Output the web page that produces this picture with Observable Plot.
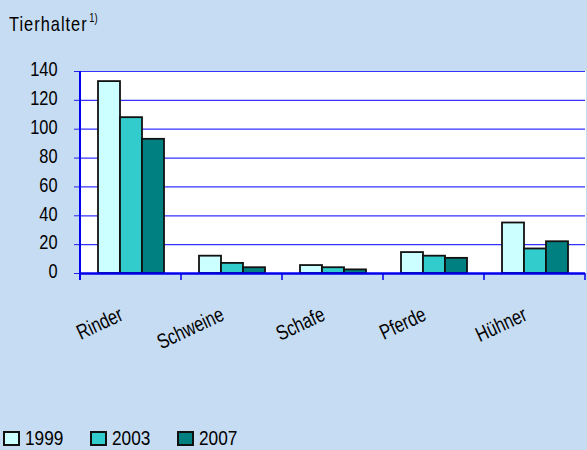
<!DOCTYPE html>
<html><head><meta charset="utf-8">
<script src="https://cdn.jsdelivr.net/npm/d3@7"></script>
<script src="https://cdn.jsdelivr.net/npm/@observablehq/plot@0.6"></script>
<style>
html,body{margin:0;padding:0;background:#c6dcf2;overflow:hidden;}
#wrap{position:relative;width:587px;height:450px;overflow:hidden;font-family:"Liberation Sans",Arial,sans-serif;color:#000;}
.sq{display:inline-block;transform:scaleX(0.78);transform-origin:0 50%;white-space:nowrap;}
#legend .sq{transform:scaleX(0.82);}
#title{position:absolute;left:9px;top:13px;font-size:21px;line-height:21px;white-space:nowrap;}
#title .main{letter-spacing:1.3px;}
#title sup{font-size:12px;vertical-align:0;position:relative;top:-9px;margin-left:2px;letter-spacing:0;}
#chart{position:absolute;left:0;top:0;}
#legend{position:absolute;left:3px;top:427px;display:flex;font-size:21px;line-height:21px;}
.item{display:flex;align-items:flex-start;width:87px;}
.sw{width:13px;height:11px;border:2px solid #111;margin-top:4px;margin-right:5px;flex:none;}
#chart svg [aria-label^="y-axis"] line, #chart svg [aria-label^="y-axis"] path{stroke:#2222ee;}
</style></head>
<body>
<div id="wrap"><div id="title"><span class="sq"><span class="main">Tierhalter</span><sup>1)</sup></span></div><div id="chart"></div><div id="legend"></div></div>
<script>
const categories = ["Rinder", "Schweine", "Schafe", "Pferde", "Hühner"];
const years = ["1999", "2003", "2007"];
const values1999 = [133, 12, 5.5, 14.5, 35];
const values2003 = [108, 7, 4, 12, 17];
const values2007 = [93, 4, 2.5, 10.5, 22];
const yTicks = [0, 20, 40, 60, 80, 100, 120, 140];
const colors = ["#ccffff", "#33cccc", "#008080"];

const series = [values1999, values2003, values2007];
const rows = [];
categories.forEach((c, i) => years.forEach((yr, j) => rows.push({cat: c, year: yr, value: series[j][i]})));

const font = '"Liberation Sans",Arial,sans-serif';
const squeeze = 0.78;
const plot = Plot.plot({
  width: 587, height: 400,
  marginTop: 71, marginBottom: 127, marginLeft: 79, marginRight: 2,
  style: {background: "transparent", fontFamily: font, fontSize: "21px", color: "#000", overflow: "visible"},
  facet: {data: rows, x: "cat"},
  fx: {domain: categories, padding: 0, axis: null, label: null},
  x: {domain: years, paddingInner: 0, paddingOuter: 0.7, axis: null},
  y: {domain: [0, 140], ticks: yTicks, tickSize: 6, tickPadding: 17, label: null},
  color: {domain: years, range: colors},
  marks: [
    Plot.frame({fill: "white", stroke: null, inset: -0.5, shapeRendering: "crispEdges"}),
    Plot.ruleY(yTicks.filter(d => d > 0), {stroke: "#3333ff", strokeWidth: 1.2}),
    Plot.barY(rows, {x: "year", y: "value", fill: "year", stroke: "#111", strokeWidth: 1.8}),
    Plot.ruleY([0], {stroke: "#0000ee", strokeWidth: 2.5}),
    Plot.text(rows, {filter: d => d.year === years[1], x: "year", frameAnchor: "bottom", text: "cat",
      rotate: -25, textAnchor: "end", dx: -7, dy: 46, fontSize: 21, fill: "#000"})
  ]
});
document.getElementById("chart").appendChild(plot);

const svg = d3.select(plot);
// condense all chart text horizontally around its anchor, like the original's narrow type
svg.selectAll("text").each(function () {
  const t = d3.select(this);
  const x = +t.attr("x") || 0, y = +t.attr("y") || 0;
  const tr = t.attr("transform") || "";
  t.attr("transform", `${tr} translate(${x},${y}) scale(${squeeze},1) translate(${-x},${-y})`);
});
svg.selectAll('[aria-label="y-axis tick label"]').attr("transform", function () {
  return (this.getAttribute("transform") || "") + " translate(0,-2)";
});

// boundary ticks on the category axis and the y axis line, from Plot's own scales
const fx = plot.scale("fx"), ys = plot.scale("y");
const bw = fx.bandwidth != null ? fx.bandwidth : fx.step;
const bounds = categories.map(c => fx.apply(c)).concat([fx.apply(categories[categories.length - 1]) + bw]);
const y0 = ys.apply(0), yTop = ys.apply(140);
const g = svg.append("g").attr("stroke", "#0000ee");
g.selectAll("line.b").data(bounds).join("line").attr("class", "b")
  .attr("x1", d => d).attr("x2", d => d).attr("y1", y0).attr("y2", y0 + 7).attr("stroke-width", 1.5);
g.append("line").attr("x1", bounds[0]).attr("x2", bounds[0]).attr("y1", yTop).attr("y2", y0 + 7).attr("stroke-width", 2);

// legend
const legend = d3.select("#legend");
years.forEach((yr, j) => {
  const it = legend.append("div").attr("class", "item");
  it.append("div").attr("class", "sw").style("background", colors[j]);
  it.append("span").attr("class", "sq").text(yr);
});
</script>
</body></html>
